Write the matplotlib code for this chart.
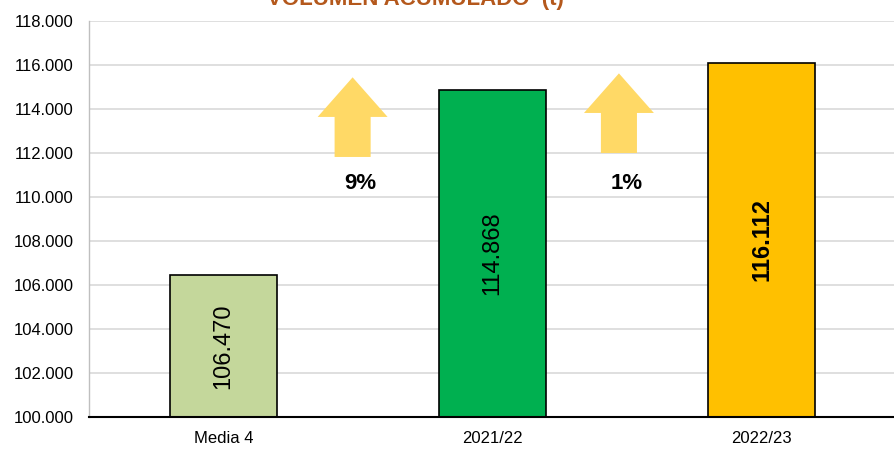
import matplotlib.pyplot as plt
from matplotlib.patches import Polygon

plt.rcParams["font.family"] = ["Liberation Sans", "DejaVu Sans"]

categories = ["Media 4", "2021/22", "2022/23"]
volumes = [106.470, 114.868, 116.112]
value_labels = ["106.470", "114.868", "116.112"]
bar_colors = ["#C4D79B", "#00B050", "#FFC000"]
label_bold = [False, False, True]
growth_labels = ["9%", "1%"]
y_ticks = [100, 102, 104, 106, 108, 110, 112, 114, 116, 118]
y_tick_labels = ["100.000", "102.000", "104.000", "106.000", "108.000",
                 "110.000", "112.000", "114.000", "116.000", "118.000"]

fig = plt.figure(figsize=(8.94, 4.55), dpi=100)
ax = fig.add_axes([89 / 894, 1 - 417 / 455, 807 / 894, 396 / 455])

x = range(len(categories))
ax.bar(x, [v - 100 for v in volumes], bottom=100, width=0.4,
       color=bar_colors, edgecolor="black", linewidth=1.2, zorder=3)

for i, v in enumerate(volumes):
    ax.text(i, (100 + v) / 2, value_labels[i], rotation=90, ha="center", va="center",
            fontsize=17, fontweight="bold" if label_bold[i] else "normal", zorder=4)

ax.set_xlim(-0.5, 2.5)
ax.set_ylim(100, 118)
ax.set_yticks(y_ticks)
ax.set_yticklabels(y_tick_labels)
ax.set_xticks(list(x))
ax.set_xticklabels(categories)
ax.tick_params(axis="y", length=0, pad=11, labelsize=12)
ax.tick_params(axis="x", length=0, pad=10, labelsize=12)
ax.yaxis.grid(True, color="#D9D9D9", linewidth=1.2, zorder=0)
ax.set_axisbelow(True)

for s in ["top", "right"]:
    ax.spines[s].set_visible(False)
ax.spines["left"].set_color("#BFBFBF")
ax.spines["left"].set_linewidth(1)
ax.spines["bottom"].set_color("black")
ax.spines["bottom"].set_linewidth(1.5)
ax.spines["bottom"].set_zorder(5)

# growth arrows between the bars
arrow_x = [0.48, 1.47]
arrow_bottom = [111.82, 112.0]
for cx, yb, lab in zip(arrow_x, arrow_bottom, growth_labels):
    hw, sw = 0.13, 0.067
    ybase, ytip = yb + 1.82, yb + 3.62
    pts = [(cx - sw, yb), (cx + sw, yb), (cx + sw, ybase), (cx + hw, ybase),
           (cx, ytip), (cx - hw, ybase), (cx - sw, ybase)]
    ax.add_patch(Polygon(pts, closed=True, facecolor="#FFD966", edgecolor="none", zorder=4))
    ax.text(cx + 0.03, 110.6, lab, ha="center", va="center",
            fontsize=16, fontweight="bold", zorder=4)

fig.text(415 / 894, 1 - 5 / 455, "VOLUMEN ACUMULADO  (t)", ha="center", va="baseline",
         fontsize=16, fontweight="bold", color="#B4581C")

fig.savefig("out.png", dpi=100)
